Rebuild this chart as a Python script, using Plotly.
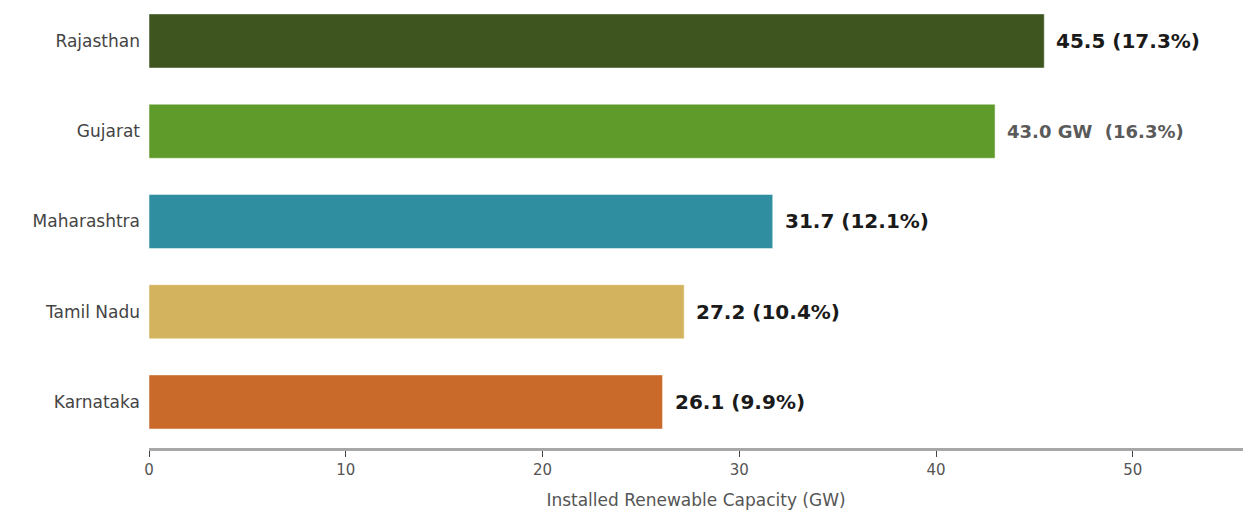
import plotly.graph_objects as go

states = ["Rajasthan", "Gujarat", "Maharashtra", "Tamil Nadu", "Karnataka"]
capacity_gw = [45.5, 43.0, 31.7, 27.2, 26.1]
labels = ["45.5 (17.3%)", "43.0 GW  (16.3%)", "31.7 (12.1%)", "27.2 (10.4%)", "26.1 (9.9%)"]
label_colors = ["#1a1a1a", "#5a5a5a", "#1a1a1a", "#1a1a1a", "#1a1a1a"]
label_sizes = [20, 18, 20, 20, 20]
colors = ["#3e5520", "#5f9b2b", "#2f8fa0", "#d4b35e", "#c96a2b"]
x_ticks = [0, 10, 20, 30, 40, 50]

fig = go.Figure(
    go.Bar(
        x=capacity_gw,
        y=states,
        orientation="h",
        marker=dict(color=colors, line=dict(color="rgba(255,255,255,0.5)", width=1)),
        width=0.6,
        hoverinfo="x+y",
    )
)

for s, v, t, c, fs in zip(states, capacity_gw, labels, label_colors, label_sizes):
    fig.add_annotation(
        x=v, y=s, text=f"<b>{t}</b>", showarrow=False,
        xanchor="left", yanchor="middle", xshift=10,
        font=dict(family="DejaVu Sans", size=fs, color=c),
    )

fig.update_layout(
    width=1243,
    height=514,
    margin=dict(l=149, r=0, t=0, b=66),
    plot_bgcolor="white",
    paper_bgcolor="white",
    showlegend=False,
    font=dict(family="DejaVu Sans", color="#444"),
)
fig.update_xaxes(
    range=[0, 55.6],
    tickvals=x_ticks,
    ticks="outside",
    ticklen=6,
    tickcolor="#444",
    tickfont=dict(size=15, color="#555"),
    showline=True,
    linecolor="#a8a8a8",
    linewidth=3,
    showgrid=False,
    zeroline=False,
    title=dict(text="Installed Renewable Capacity (GW)", font=dict(size=17, color="#555"), standoff=17),
)
fig.update_yaxes(
    range=[4.51, -0.454],
    tickfont=dict(size=17, color="#444"),
    showgrid=False,
    ticks="",
    ticklabelstandoff=8,
)

fig.write_html("out.html")
